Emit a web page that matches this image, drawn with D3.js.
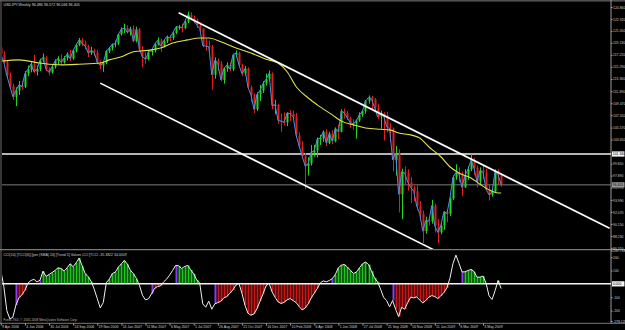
<!DOCTYPE html>
<html><head><meta charset="utf-8">
<script src="https://cdn.jsdelivr.net/npm/d3@7"></script>
<style>html,body{margin:0;padding:0;background:#000;overflow:hidden}text{font-family:"Liberation Sans",Arial,sans-serif}</style>
</head><body><svg id="c" width="625" height="330"></svg>
<script>
// ---- DATA (weekly USDJPY, week index 0 = 9 Apr 2006) ----
const dateLabels = ["9 Apr 2006","4 Jun 2006","30 Jul 2006","24 Sep 2006","19 Nov 2006","14 Jan 2007","11 Mar 2007","6 May 2007","1 Jul 2007","26 Aug 2007","21 Oct 2007","16 Dec 2007","10 Feb 2008","6 Apr 2008","1 Jun 2008","27 Jul 2008","21 Sep 2008","16 Nov 2008","11 Jan 2009","8 Mar 2009","3 May 2009"];
const openP = [118.4,117.3,116.0,113.9,112.2,110.5,111.5,112.4,112.1,114.2,
114.9,115.7,114.5,114.9,116.3,116.8,114.9,114.4,115.3,116.2,
116.6,116.0,116.7,117.3,116.6,117.9,118.8,119.6,119.0,118.6,
117.5,117.9,117.6,116.0,115.5,115.9,117.8,118.3,118.9,119.0,
120.5,121.3,121.5,120.8,121.4,119.4,121.3,118.1,116.9,116.5,
117.6,117.9,118.9,119.5,118.6,119.4,120.1,119.9,120.7,121.6,
121.7,121.5,122.5,123.6,123.2,122.7,122.0,121.4,118.7,118.6,
118.5,114.0,116.3,115.8,113.2,115.0,115.6,114.9,117.2,117.5,
115.6,114.2,115.0,112.0,110.8,108.5,110.9,111.5,112.6,113.3,
114.2,109.1,109.2,106.7,106.6,106.4,107.9,107.8,107.3,104.3,
102.6,101.0,99.4,99.8,101.6,101.9,103.7,103.9,104.9,103.1,
104.6,103.4,105.4,104.9,108.2,107.9,107.1,106.3,106.2,106.7,
107.6,108.2,109.8,110.4,110.1,108.8,107.3,107.8,107.5,105.7,
105.4,100.4,101.5,94.9,98.5,98.3,96.8,96.0,95.4,93.0,
91.8,89.0,90.7,90.6,93.1,89.8,88.8,89.9,92.1,91.8,
94.2,97.6,98.4,98.1,96.0,97.9,98.9,100.3,99.1,96.9,
98.7,98.4,95.7,94.8,95.3,98.6,98.0];
const highP = [118.7,117.8,116.3,114.4,112.6,112.0,113.0,113.0,114.6,115.5,
116.1,117.2,115.5,116.6,117.4,117.0,115.2,115.6,116.5,117.0,
117.3,117.0,117.6,118.0,118.1,119.0,119.9,119.9,119.5,118.8,
118.5,118.2,118.0,116.3,116.2,118.0,118.5,119.0,119.5,120.6,
121.6,122.2,121.9,121.7,121.9,121.7,121.5,118.6,117.6,117.9,
118.2,119.1,120.0,119.8,119.6,120.3,120.4,120.9,121.8,122.0,
122.2,122.7,124.1,124.0,123.5,123.0,122.4,121.5,119.8,119.5,
118.8,116.8,116.6,116.2,115.2,116.0,116.0,117.4,117.9,117.7,
115.8,115.4,115.2,112.3,111.0,111.2,112.4,113.0,114.2,114.7,
114.4,110.0,109.4,107.8,108.0,108.0,108.4,108.3,107.9,104.8,
103.4,101.5,100.8,102.8,102.8,104.0,104.4,105.1,105.3,104.9,
105.1,105.6,106.1,108.5,108.6,108.2,107.3,106.9,106.9,108.0,
108.4,110.0,110.7,110.6,110.3,109.4,108.3,108.0,108.1,106.3,
105.6,102.6,102.1,99.0,99.4,98.9,97.6,96.2,96.3,93.8,
92.3,91.3,91.2,94.0,93.4,90.9,90.3,92.2,92.3,94.4,
97.9,99.7,99.2,98.5,98.9,99.4,101.4,100.7,99.5,99.2,
99.4,99.0,96.5,96.0,98.9,98.9,98.3];
const lowP = [117.0,115.8,113.5,111.9,110.0,109.0,110.8,111.6,111.9,113.8,
114.4,114.3,113.9,114.6,116.0,114.6,113.9,114.2,115.0,115.6,
115.7,115.8,116.3,116.2,116.4,117.6,118.6,118.6,118.1,116.8,
117.2,117.0,115.7,114.9,114.5,115.7,117.5,117.9,118.4,118.8,
120.3,120.7,120.6,120.3,119.2,119.2,117.7,115.2,115.8,116.3,
117.1,117.6,118.7,117.7,118.4,119.1,119.4,119.6,120.5,121.2,
120.8,121.3,122.3,122.7,122.3,121.5,120.8,118.4,117.9,117.6,
111.6,113.4,114.6,113.0,112.6,114.5,114.6,114.6,116.8,115.4,
113.8,113.9,111.8,109.7,107.9,108.2,109.8,111.1,112.3,113.0,
108.5,107.7,106.2,104.9,105.9,105.8,106.6,106.8,104.0,102.3,
100.6,95.7,97.9,99.5,100.9,100.8,102.8,103.3,102.6,102.9,
102.9,103.2,103.7,104.8,107.0,106.8,105.5,105.2,103.8,106.5,
107.3,107.8,109.4,108.4,108.3,106.9,105.4,103.5,104.8,103.2,
98.6,97.9,92.0,90.9,96.4,95.5,93.5,93.8,92.4,90.7,
87.1,88.6,89.9,90.2,88.8,87.1,88.5,89.2,90.4,91.4,
94.0,97.2,96.8,94.6,95.9,97.2,98.6,98.0,96.0,96.5,
97.3,95.4,93.9,94.5,95.2,96.5,96.1];
const closeP = [117.3,116.0,113.9,112.2,110.5,111.5,112.4,112.1,114.2,114.9,
115.7,114.5,114.9,116.3,116.8,114.9,114.4,115.3,116.2,116.6,
116.0,116.7,117.3,116.6,117.9,118.8,119.6,119.0,118.6,117.5,
117.9,117.6,116.0,115.5,115.9,117.8,118.3,118.9,119.0,120.5,
121.3,121.5,120.8,121.4,119.4,121.3,118.1,116.9,116.5,117.6,
117.9,118.9,119.5,118.6,119.4,120.1,119.9,120.7,121.6,121.7,
121.5,122.5,123.6,123.2,122.7,122.0,121.4,118.7,118.6,118.5,
114.0,116.3,115.8,113.2,115.0,115.6,114.9,117.2,117.5,115.6,
114.2,115.0,112.0,110.8,108.5,110.9,111.5,112.6,113.3,114.2,
109.1,109.2,106.7,106.6,106.4,107.9,107.8,107.3,104.3,102.6,
101.0,99.4,99.8,101.6,101.9,103.7,103.9,104.9,103.1,104.6,
103.4,105.4,104.9,108.2,107.9,107.1,106.3,106.2,106.7,107.6,
108.2,109.8,110.4,110.1,108.8,107.3,107.8,107.5,105.7,105.4,
100.4,101.5,94.9,98.5,98.3,96.8,96.0,95.4,93.0,91.8,
89.0,90.7,90.6,93.1,89.8,88.8,89.9,92.1,91.8,94.2,
97.6,98.4,98.1,96.0,97.9,98.9,100.3,99.1,96.9,98.7,
98.4,95.7,94.8,95.3,98.6,98.0,96.4];
const cciValues = [100,-20,-200,-262,-250,-160,-105,-82,-48,5,
25,34,14,27,95,55,70,85,100,120,
115,95,120,150,128,158,193,135,77,53,
18,-40,-110,-180,-140,8,35,77,88,125,
150,175,148,101,77,40,-10,-85,-120,-112,
-75,-35,-20,-15,14,35,65,100,138,135,
115,130,138,105,75,30,5,-150,-175,-130,
-190,-150,-140,-130,-105,-95,-70,-45,-10,5,
-70,-160,-220,-235,-225,-185,-130,-75,-15,5,
-60,-100,-135,-147,-138,-120,-110,-125,-140,-170,
-195,-180,-150,-105,-70,-35,7,22,15,25,
39,70,120,140,145,126,101,78,88,120,
150,163,145,95,45,15,-40,-100,-125,-172,
-125,-190,-245,-175,-190,-140,-100,-105,-97,-122,
-142,-125,-100,-88,-95,-110,-90,-65,-30,40,
150,215,155,90,90,100,108,92,50,50,
58,5,-90,-117,-50,25,-35];
const maIndex = [0,6,13,20,26,33,36,40,44,50,53,57,62,66,69,73,77,83,88,92,95,98,102,105,110,113,117,121,126,129,132,136,139,142,146,149,152,156,159,162,165,166];
const maValue = [116.2,116.4,115.9,115.6,115.7,115.9,116.4,116.9,117.7,118.0,118.3,119.1,119.6,119.9,119.9,119.3,118.5,117.5,116.5,115.9,114.5,112.1,110.3,109.2,107.6,106.6,106.0,105.5,105.3,105.2,104.7,104.4,103.9,102.5,100.9,99.3,98.3,97.5,96.5,95.6,95.1,95.1];
const channelUpper = [[59,123.93],[202,89.45]];
const channelLower = [[33,112.68],[150,84.47]];
const levelPrice = 101.340;
const lastPrice = 96.405;
const priceTicks = [124.860,122.920,121.050,119.130,117.210,115.290,113.360,111.390,109.470,107.550,105.570,103.650,99.810,97.890,95.970,93.990,92.070,90.150,88.230,86.310];
const cciTicks = [249.738,200,100,-100,-200,-278.128];
const cciTickText = ["249.738","200","100","-100","-200","-278.128"];
const trendBars = 5;
const titleText = "USDJPY,Weekly  96.486 96.572 96.066 96.405";
const indText = "CCI(14) [TCCI(6)] [per (SMA) 20] [Trend 5] Values CCI [TCCI -35.3822 34.0009";
const copyText = "Forex-TSD, \u00a9 2005-2008 MetaQuotes Software Corp.";

// ---- DRAW ----
const W=625,H=330;
const svg=d3.select("#c");
svg.append("rect").attr("width",W).attr("height",H).attr("fill","#000");
const N=closeP.length;
const x=d3.scaleLinear().domain([0,N-1]).range([0.8,0.8+(N-1)*3.014]);
const yMain=d3.scaleLinear().domain([86.14,125.5]).range([249,3]);
const yInd=d3.scaleLinear().domain([-278.128,249.738]).range([321,250.5]);
const AX=611;
const AXFONT='"Liberation Sans Narrow","Liberation Sans",Arial,sans-serif';

const defs=svg.append("defs");
defs.append("clipPath").attr("id","cm").append("rect").attr("x",2).attr("y",2).attr("width",AX-2).attr("height",247);
defs.append("clipPath").attr("id","ci").append("rect").attr("x",2).attr("y",250).attr("width",AX-2).attr("height",73);

// frame
svg.append("rect").attr("x",0).attr("y",0).attr("width",W).attr("height",1.6).attr("fill","#505050");
svg.append("line").attr("x1",1).attr("x2",1).attr("y1",0).attr("y2",323).attr("stroke","#5a5a5a").attr("stroke-width",1.2);
svg.append("line").attr("x1",0).attr("x2",W).attr("y1",249.6).attr("y2",249.6).attr("stroke","#7a7a7a").attr("stroke-width",1.3);
svg.append("line").attr("x1",0).attr("x2",W).attr("y1",323.3).attr("y2",323.3).attr("stroke","#7a7a7a").attr("stroke-width",1);
svg.append("line").attr("x1",AX).attr("x2",AX).attr("y1",0).attr("y2",323).attr("stroke","#9a9a9a").attr("stroke-width",1);

const gm=svg.append("g").attr("clip-path","url(#cm)");
// horizontal levels
gm.append("line").attr("x1",2).attr("x2",AX).attr("y1",yMain(levelPrice)).attr("y2",yMain(levelPrice)).attr("stroke","#f0f0f0").attr("stroke-width",1.5);
gm.append("line").attr("x1",2).attr("x2",AX).attr("y1",yMain(lastPrice)).attr("y2",yMain(lastPrice)).attr("stroke","#7c7c7c").attr("stroke-width",1);

// candles
const bars=d3.range(N).map(i=>({i,o:openP[i],h:highP[i],l:lowP[i],c:closeP[i]}));
const up="#22d622", dn="#e01e1e";
gm.selectAll("line.w").data(bars).join("line").attr("class","w")
  .attr("x1",d=>Math.round(x(d.i))+0.5).attr("x2",d=>Math.round(x(d.i))+0.5)
  .attr("y1",d=>yMain(d.h)).attr("y2",d=>yMain(d.l))
  .attr("stroke",d=>d.c>=d.o?up:dn).attr("stroke-width",1);
gm.selectAll("rect.b").data(bars).join("rect").attr("class","b")
  .attr("x",d=>Math.round(x(d.i))-0.5).attr("width",2)
  .attr("y",d=>yMain(Math.max(d.o,d.c)))
  .attr("height",d=>Math.max(1,Math.abs(yMain(d.o)-yMain(d.c))))
  .attr("fill",d=>d.c>=d.o?up:dn);

// blue close line
gm.append("path").datum(bars).attr("fill","none").attr("stroke","#4b8fe0").attr("stroke-width",1)
  .attr("d",d3.line().x(d=>x(d.i)).y(d=>yMain(d.c)));
// yellow MA
gm.append("path").datum(d3.zip(maIndex,maValue)).attr("fill","none").attr("stroke","#e2e24a").attr("stroke-width",1.1)
  .attr("d",d3.line().curve(d3.curveMonotoneX).x(d=>x(d[0])).y(d=>yMain(d[1])));
// channel lines
[channelUpper,channelLower].forEach(c=>{
  gm.append("line").attr("x1",x(c[0][0])).attr("y1",yMain(c[0][1])).attr("x2",x(c[1][0])).attr("y2",yMain(c[1][1]))
    .attr("stroke","#ffffff").attr("stroke-width",1.6);
});

// title
svg.append("text").attr("x",3.5).attr("y",6.3).attr("fill","#d8d8d8").attr("font-size",3.7).text(titleText);

// right price axis
const fs=3.4;
const ra=svg.append("g").attr("transform",`translate(${AX},0)`)
  .call(d3.axisRight(yMain).tickValues(priceTicks).tickFormat(d3.format(".3f")).tickSize(1.5).tickPadding(0.6));
ra.select(".domain").remove();
ra.selectAll("line").attr("stroke","#aaa");
ra.selectAll("text").attr("fill","#cfcfcf").attr("font-size",fs).attr("font-family",AXFONT);
// value boxes
function box(yv,label,fill,txt){
  const g=svg.append("g").attr("transform",`translate(${AX+1},${yv})`);
  g.append("rect").attr("x",0).attr("y",-2.6).attr("width",12.5).attr("height",5.2).attr("fill",fill);
  g.append("text").attr("x",0.8).attr("y",1.3).attr("font-size",fs).attr("font-family",AXFONT).attr("fill",txt).text(label);
}
box(yMain(levelPrice),d3.format(".3f")(levelPrice),"#f4f4f4","#000");
box(yMain(lastPrice),d3.format(".3f")(lastPrice),"#9a9a9a","#000");

// ---- indicator panel ----
const gi=svg.append("g").attr("clip-path","url(#ci)");
let trend=0,run=0,prev=0;
const hist=cciValues.map((v,i)=>{
  const s=v>=0?1:-1;
  run=(s===prev)?run+1:1; prev=s;
  let sig=false;
  if(run>=trendBars && trend!==s){trend=s;sig=true;}
  return {i,v,show:s===trend,sig,s};
});
gi.selectAll("rect.h").data(hist.filter(d=>d.show)).join("rect").attr("class","h")
  .attr("x",d=>Math.round(x(d.i))-0.5).attr("width",2)
  .attr("y",d=>Math.min(yInd(0),yInd(d.v))).attr("height",d=>Math.abs(yInd(d.v)-yInd(0)))
  .attr("fill",d=>d.sig?"#8a3cf0":(d.s>0?"#1fc41f":"#c81818"));
gi.append("line").attr("x1",2).attr("x2",AX).attr("y1",yInd(0)).attr("y2",yInd(0)).attr("stroke","#f4f4f4").attr("stroke-width",1.5);
gi.append("path").datum(hist).attr("fill","none").attr("stroke","#f0f0f0").attr("stroke-width",1)
  .attr("d",d3.line().x(d=>x(d.i)).y(d=>yInd(d.v)));

svg.append("text").attr("x",3.5).attr("y",255.5).attr("fill","#d0d0d0").attr("font-size",3.5).text(indText);
svg.append("text").attr("x",3.5).attr("y",321).attr("fill","#b8b8b8").attr("font-size",3.1).text(copyText);

const ia=svg.append("g").attr("transform",`translate(${AX},0)`)
  .call(d3.axisRight(yInd).tickValues(cciTicks).tickFormat((d,k)=>cciTickText[k]).tickSize(1.5).tickPadding(0.6));
ia.select(".domain").remove();
ia.selectAll("line").attr("stroke","#aaa");
ia.selectAll("text").attr("fill","#cfcfcf").attr("font-size",fs).attr("font-family",AXFONT);
box(yInd(0),"0.000","#f4f4f4","#000");

// ---- date axis ----
const da=svg.append("g").attr("transform","translate(0,323.5)")
  .call(d3.axisBottom(x).tickValues(dateLabels.map((d,k)=>k*8)).tickFormat((d,k)=>dateLabels[k]).tickSize(2).tickPadding(0.5));
da.select(".domain").remove();
da.selectAll("line").attr("stroke","#aaa");
da.selectAll("text").attr("fill","#cfcfcf").attr("font-size",3.5).attr("font-family","Liberation Sans").attr("text-anchor","start").attr("dx",0.8);
</script></body></html>
